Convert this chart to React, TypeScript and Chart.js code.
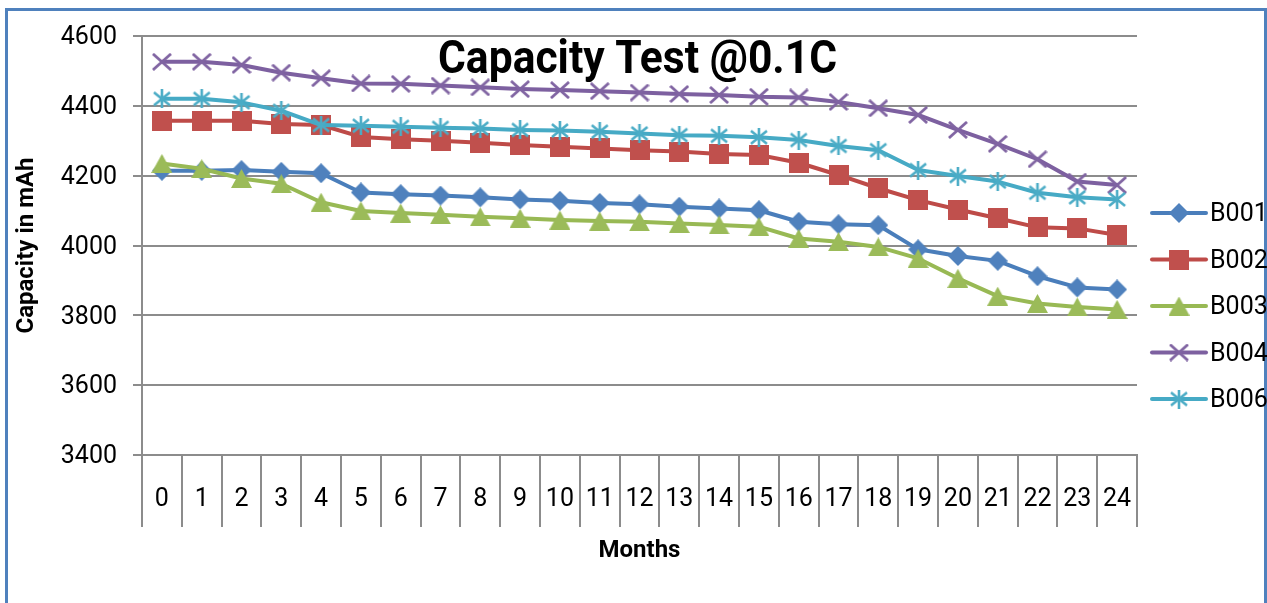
import React, { useEffect, useRef } from 'react';
import Chart from 'chart.js/auto';

const months = ['0', '1', '2', '3', '4', '5', '6', '7', '8', '9', '10', '11', '12', '13', '14', '15', '16', '17', '18', '19', '20', '21', '22', '23', '24'];

const b001 = [4214, 4214, 4216, 4211, 4207, 4152, 4147, 4143, 4138, 4132, 4128, 4122, 4118, 4111, 4106, 4101, 4068, 4061, 4058, 3989, 3970, 3956, 3912, 3880, 3874];
const b002 = [4357, 4357, 4357, 4348, 4345, 4311, 4304, 4300, 4294, 4288, 4283, 4278, 4273, 4269, 4262, 4259, 4237, 4202, 4164, 4130, 4103, 4078, 4052, 4049, 4030];
const b003 = [4235, 4220, 4192, 4177, 4124, 4099, 4093, 4088, 4082, 4078, 4073, 4070, 4068, 4063, 4059, 4054, 4020, 4011, 3996, 3963, 3906, 3855, 3834, 3824, 3817];
const b004 = [4526, 4526, 4517, 4495, 4479, 4464, 4463, 4458, 4453, 4448, 4445, 4442, 4438, 4434, 4431, 4426, 4424, 4411, 4393, 4374, 4331, 4291, 4247, 4183, 4173];
const b006 = [4420, 4420, 4410, 4386, 4345, 4343, 4340, 4337, 4335, 4331, 4329, 4326, 4321, 4316, 4314, 4310, 4302, 4285, 4273, 4216, 4199, 4183, 4151, 4138, 4132];

const seriesNames = ['B001', 'B002', 'B003', 'B004', 'B006'];
const seriesValues = [b001, b002, b003, b004, b006];
const lineColors = ['#4A7EBB', '#BE4B48', '#98B954', '#7D60A0', '#46AAC5'];
const markerColors = ['#4F81BD', '#C0504D', '#9BBB59', '#8064A2', '#4BACC6'];
const markerKinds = ['diamond', 'square', 'triangle', 'x', 'star'];

const yMin = 3400;
const yMax = 4600;
const yStep = 200;

const chartTitle = 'Capacity Test @0.1C';
const xAxisTitle = 'Months';
const yAxisTitle = 'Capacity in mAh';

const FONT = 'Roboto';

function makeMarker(kind: string, color: string): HTMLCanvasElement {
  const c = document.createElement('canvas');
  if (kind === 'diamond') {
    c.width = 20; c.height = 20;
    const g = c.getContext('2d')!;
    g.fillStyle = color;
    g.beginPath();
    g.moveTo(10, 0); g.lineTo(20, 10); g.lineTo(10, 20); g.lineTo(0, 10);
    g.closePath(); g.fill();
  } else if (kind === 'square') {
    c.width = 20; c.height = 20;
    const g = c.getContext('2d')!;
    g.fillStyle = color;
    g.fillRect(0, 0, 20, 20);
  } else if (kind === 'triangle') {
    c.width = 21; c.height = 19;
    const g = c.getContext('2d')!;
    g.fillStyle = color;
    g.beginPath();
    g.moveTo(10.5, 0); g.lineTo(21, 19); g.lineTo(0, 19);
    g.closePath(); g.fill();
  } else if (kind === 'x') {
    c.width = 20; c.height = 18;
    const g = c.getContext('2d')!;
    g.strokeStyle = color; g.lineWidth = 2.8;
    g.beginPath();
    g.moveTo(1, 1); g.lineTo(19, 17);
    g.moveTo(19, 1); g.lineTo(1, 17);
    g.stroke();
  } else {
    c.width = 20; c.height = 19;
    const g = c.getContext('2d')!;
    g.strokeStyle = color; g.lineWidth = 2.6;
    g.beginPath();
    g.moveTo(2, 3); g.lineTo(18, 16);
    g.moveTo(18, 3); g.lineTo(2, 16);
    g.moveTo(10, 0); g.lineTo(10, 19);
    g.stroke();
  }
  return c;
}

export default function App() {
  const ref = useRef<HTMLCanvasElement>(null);

  useEffect(() => {
    const canvas = ref.current;
    if (!canvas) return;
    const markers = markerKinds.map((k, i) => makeMarker(k, markerColors[i]));

    const decor = {
      id: 'decor',
      afterDraw(chart: any) {
        const ctx = chart.ctx as CanvasRenderingContext2D;
        const area = chart.chartArea;
        ctx.save();
        ctx.strokeStyle = '#4F81BD';
        ctx.lineWidth = 3;
        ctx.beginPath();
        ctx.moveTo(6.5, 603);
        ctx.lineTo(6.5, 9.5);
        ctx.lineTo(1265.5, 9.5);
        ctx.lineTo(1265.5, 603);
        ctx.stroke();
        ctx.restore();

        ctx.save();
        ctx.font = `bold 46px ${FONT}`;
        ctx.fillStyle = '#000';
        ctx.textAlign = 'left';
        ctx.textBaseline = 'alphabetic';
        const w = ctx.measureText(chartTitle).width;
        const target = 399;
        const cx = (area.left + area.right) / 2 - 2;
        ctx.translate(cx - target / 2, 73);
        ctx.scale(target / w, 1);
        ctx.fillText(chartTitle, 0, 0);
        ctx.restore();

        ctx.save();
        const lx0 = 1152, lx1 = 1206, tx = 1210;
        const ly0 = 213, dy = 46.5;
        seriesNames.forEach((name, i) => {
          const y = ly0 + i * dy;
          ctx.strokeStyle = lineColors[i];
          ctx.lineWidth = 4;
          ctx.lineCap = 'round';
          ctx.beginPath();
          ctx.moveTo(lx0, y);
          ctx.lineTo(lx1, y);
          ctx.stroke();
          const m = markers[i];
          ctx.drawImage(m, (lx0 + lx1) / 2 - m.width / 2, y - m.height / 2);
          ctx.fillStyle = '#000';
          ctx.font = `25px ${FONT}`;
          ctx.textAlign = 'left';
          ctx.textBaseline = 'middle';
          ctx.fillText(name, tx, y + 2);
        });
        ctx.restore();
      },
    };

    const chart = new Chart(canvas, {
      type: 'line',
      data: {
        labels: months,
        datasets: seriesNames.map((name, i) => ({
          label: name,
          data: seriesValues[i],
          borderColor: lineColors[i],
          backgroundColor: lineColors[i],
          borderWidth: 4,
          pointStyle: markers[i] as any,
          pointRadius: 10,
          tension: 0,
          fill: false,
          borderJoinStyle: 'round' as const,
          borderCapStyle: 'round' as const,
          order: seriesNames.length - i,
        })),
      },
      options: {
        responsive: false,
        animation: false,
        layout: { padding: { top: 36, right: 130, bottom: 0, left: 0 } },
        plugins: {
          legend: { display: false },
          title: { display: false },
          tooltip: { enabled: false },
        },
        scales: {
          x: {
            type: 'category',
            offset: true,
            grid: {
              offset: true,
              drawOnChartArea: false,
              drawTicks: true,
              tickLength: 72,
              color: '#8C8C8C',
              lineWidth: 2,
            },
            border: { display: true, color: '#8C8C8C', width: 2 },
            ticks: {
              color: '#000',
              font: { family: FONT, size: 25 },
              padding: -42,
              maxRotation: 0,
              autoSkip: false,
            },
            title: {
              display: true,
              text: xAxisTitle,
              color: '#000',
              font: { family: FONT, size: 24, weight: 'bold' },
              padding: { top: 0, bottom: 38 },
            },
            afterFit: (s: any) => { s.height = 148; },
          },
          y: {
            min: yMin,
            max: yMax,
            ticks: {
              stepSize: yStep,
              color: '#000',
              font: { family: FONT, size: 25 },
              padding: 16,
              labelOffset: 2,
              callback: (v: any) => String(v),
            },
            grid: { color: '#8C8C8C', lineWidth: 2, tickLength: 9 },
            border: { color: '#8C8C8C', width: 2 },
            title: {
              display: true,
              text: yAxisTitle,
              color: '#000',
              font: { family: FONT, size: 24, weight: 'bold' },
              padding: { top: 13, bottom: 0 },
            },
            afterFit: (s: any) => { s.width = 142; },
          },
        },
      } as any,
      plugins: [decor],
    });

    if ((document as any).fonts && (document as any).fonts.ready) {
      (document as any).fonts.ready.then(() => { try { chart.update(); } catch (e) {} });
    }

    return () => chart.destroy();
  }, []);

  return (
    <div style={{ position: 'absolute', left: 0, top: 0, width: 1267, height: 603, background: '#fff' }}>
      <canvas ref={ref} width={1267} height={603} style={{ display: 'block' }} />
    </div>
  );
}
